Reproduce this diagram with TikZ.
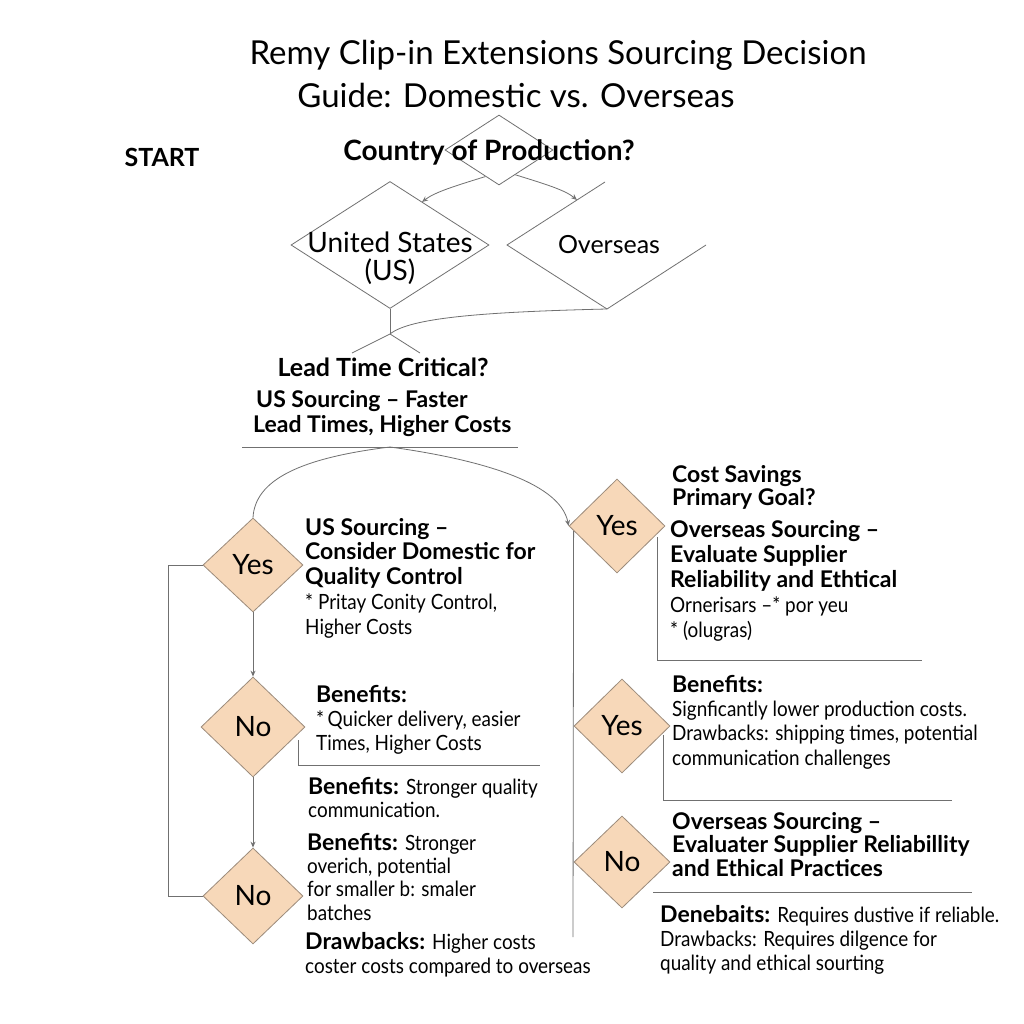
\documentclass[tikz,border=0pt]{standalone}
\usepackage{fontspec}
\setmainfont{Lato}
\newfontfamily\cnd{Lato}[FakeStretch=0.9]
\usetikzlibrary{shapes.geometric,arrows.meta,calc}
\definecolor{tan}{HTML}{F7D8B9}
\definecolor{tanline}{HTML}{9C8B7B}
\definecolor{ln}{HTML}{707070}
\tikzset{
  dia/.style={diamond, draw=tanline, fill=tan, line width=0.8pt, inner sep=0pt},
  odia/.style={diamond, draw=ln, line width=0.8pt, inner sep=0pt},
  dlab/.style={font=\fontsize{28}{30}\selectfont},
  conn/.style={draw=ln, line width=0.8pt},
  arr/.style={conn, -{Stealth[length=6pt,width=5pt,open]}},
  blk/.style={anchor=north west, inner sep=0pt, align=left, font=\fontsize{21}{#1}\selectfont},
}
\newcommand{\B}[1]{{\fontsize{23}{24}\selectfont\bfseries #1}}
\newcommand{\R}[1]{{\cnd #1}}
\begin{document}
\begin{tikzpicture}[x=1pt,y=-1pt]
\useasboundingbox (0,0) rectangle (1024,1024);
\fill[white] (0,0) rectangle (1024,1024);
% title
\node[font=\fontsize{33}{36}\selectfont] (title1) at (558,55) {Remy Clip-in Extensions Sourcing Decision};
\node[font=\fontsize{33}{36}\selectfont] (title2) at (516,95) {Guide: Domestic vs. Overseas};
\node[font=\fontsize{25}{28}\bfseries] (start) at (162,157) {START};
% country diamond
\node[odia, minimum width=108pt, minimum height=70pt] (country) at (499,150) {};
\node[font=\fontsize{28}{30}\bfseries] (countrylab) at (489,152) {Country of Production?};
% US diamond
\node[odia, minimum width=198pt, minimum height=127pt] (us) at (390,245) {};
\node[font=\fontsize{28}{28}\selectfont, align=center] (uslab) at (390,258) {United States\\(US)};
% overseas open shape
\coordinate (ovT) at (605,182);
\coordinate (ovL) at (507,245);
\coordinate (ovB) at (607,309);
\coordinate (ovR) at (706,245);
\draw[conn] (ovT) -- (ovL) -- (ovB) -- (ovR);
\node[font=\fontsize{25}{28}\selectfont] (ovlab) at (609,245) {Overseas};
% arrows from country
\draw[arr] ($(country.south)!0.25!(country.west)$) .. controls (455,186) and (435,192) .. (422,202);
\draw[arr] ($(country.south)!0.3!(country.east)$) .. controls (545,184) and (565,190) .. (577,200);
% merge
\coordinate (merge) at (390,334);
\draw[conn] (us.south) -- (merge);
\draw[conn] (merge) .. controls (410,318) and (480,312) .. (ovB);
\coordinate (ldL) at (352,353);
\coordinate (ldR) at (420,353);
\draw[conn] (ldL) -- (merge) -- (ldR);
\node[font=\fontsize{25}{28}\bfseries] (lead) at (383,367) {Lead Time Critical?};
\node[blk=25, font=\fontsize{23}{25}\bfseries] (leadtxt) at (253,390) {\hspace*{3pt}US Sourcing – Faster\\Lead Times, Higher Costs};
\coordinate (hl1) at (242,447);
\coordinate (hlm) at (390,447);
\coordinate (hl2) at (518,447);
\draw[conn] (hl1) -- (hl2);
% left diamonds
\node[dia, minimum width=100pt, minimum height=94pt] (yesL) at (253,565) {};
\node[dlab] (yesLl) at (253,565) {Yes};
\node[dia, minimum width=104pt, minimum height=100pt] (no1) at (253,727) {};
\node[dlab] (no1l) at (253,727) {No};
\node[dia, minimum width=100pt, minimum height=96pt] (no2) at (253,896) {};
\node[dlab] (no2l) at (253,896) {No};
% right diamonds
\node[dia, minimum width=96pt, minimum height=94pt] (yesR) at (617,526) {};
\node[dlab] (yesRl) at (617,526) {Yes};
\node[dia, minimum width=96pt, minimum height=94pt] (yesR2) at (622,726) {};
\node[dlab] (yesR2l) at (622,726) {Yes};
\node[dia, minimum width=96pt, minimum height=92pt] (noR) at (622,862) {};
\node[dlab] (noRl) at (622,862) {No};
% branches from lead line
\draw[conn] (hlm) .. controls (300,458) and (255,480) .. (yesL.north);
\draw[arr] (hlm) .. controls (470,458) and (560,480) .. (yesR.west);
% left connectors
\coordinate (lc) at (168,565);
\draw[conn] (yesL.west) -- (lc) |- (no2.west);
\draw[arr] (yesL.south) -- (no1.north);
\draw[arr] (no1.south) -- (no2.north);
\coordinate (b1a) at (298,740);
\coordinate (b1b) at (540,765);
\draw[conn] (b1a) |- (b1b);
% right connectors
\coordinate (rb) at (573,937);
\draw[conn] ([xshift=5pt,yshift=-5pt]yesR.west) -- (rb);
\coordinate (b2a) at (657,537);
\coordinate (b2b) at (922,660);
\draw[conn] (b2a) |- (b2b);
\coordinate (b3a) at (663,735);
\coordinate (b3b) at (952,800);
\draw[conn] (b3a) |- (b3b);
\coordinate (b4a) at (653,892);
\coordinate (b4b) at (972,892);
\draw[conn] (b4a) -- (b4b);
% left texts
\node[blk=24.7] (t1) at (305,518) {\B{US Sourcing –}\\\B{Consider Domestic for}\\\B{Quality Control}\\\R{* Pritay Conity Control,}\\\R{Higher Costs}};
\node[blk=24] (t2) at (316,685) {\B{Benefits:}\\\R{*\,Quicker delivery, easier}\\\R{Times, Higher Costs}};
\node[blk=23] (t3) at (308,777) {\B{Benefits:} \R{Stronger quality}\\\R{communication.}};
\node[blk=23.3] (t4) at (307,833) {\B{Benefits:} \R{Stronger}\\\R{overich, potential}\\\R{for smaller b: smaler}\\\R{batches}};
\node[blk=24] (t5) at (305,932) {\B{Drawbacks:} \R{Higher costs}\\\R{coster costs compared to overseas}};
% right texts
\node[blk=23] (r1) at (672,465) {\B{Cost Savings}\\\B{Primary Goal?}};
\node[blk=25] (r2) at (670,520) {\B{Overseas Sourcing –}\\\B{Evaluate Supplier}\\\B{Reliability and Ethtical}\\\R{Ornerisars –* por yeu}\\\R{* (olugras)}};
\node[blk=24.3] (r3) at (672,675) {\B{Benefits:}\\\R{Signficantly lower production costs.}\\\R{Drawbacks: shipping times, potential}\\\R{communication challenges}};
\node[blk=23.5] (r4) at (672,812) {\B{Overseas Sourcing –}\\\B{Evaluater Supplier Reliabillity}\\\B{and Ethical Practices}};
\node[blk=24] (r5) at (660,905) {\B{Denebaits:} \R{Requires dustive if reliable.}\\\R{Drawbacks: Requires dilgence for}\\\R{quality and ethical sourting}};
\end{tikzpicture}
\end{document}
